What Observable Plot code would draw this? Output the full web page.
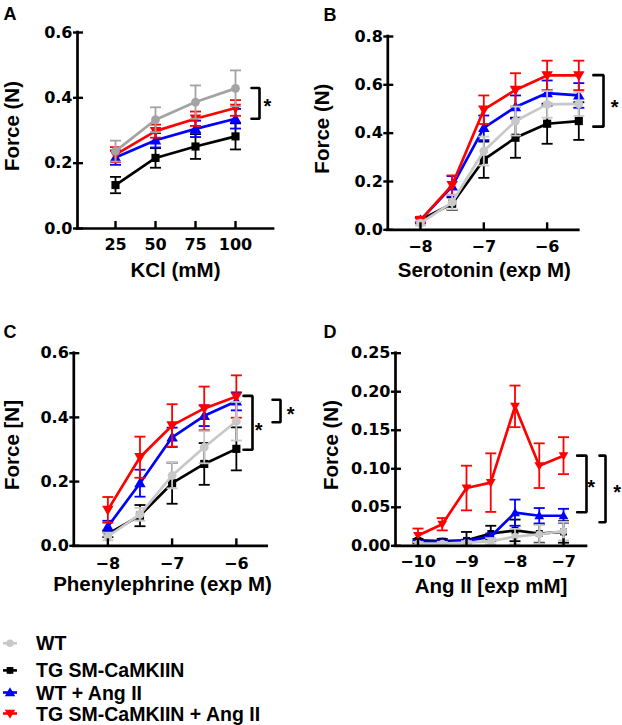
<!DOCTYPE html>
<html>
<head>
<meta charset="utf-8">
<script src="https://cdn.jsdelivr.net/npm/d3@7"></script>
<script src="https://cdn.jsdelivr.net/npm/@observablehq/plot@0.6"></script>
<style>
  body { margin: 0; background: #fff; }
  #fig { position: relative; width: 622px; height: 725px; overflow: hidden; background: #fff;
         font-family: "Liberation Sans", Arial, sans-serif; }
</style>
</head>
<body>
<div id="fig"></div>
<script>
// ---------------- DATA ----------------
const seriesNames = ["WT", "TG SM-CaMKIIN", "WT + Ang II", "TG SM-CaMKIIN + Ang II"];
const seriesColors = ["#c8c8c8", "#000000", "#0000ff", "#ff0000"];
const panelAWTColor = "#a3a3a3";

// Panel A: KCl (mM)
const kclDoses = [25, 50, 75, 100];
const kclWT = [0.237, 0.333, 0.387, 0.429];
const kclWTsem = [0.032, 0.038, 0.051, 0.055];
const kclTG = [0.133, 0.216, 0.251, 0.282];
const kclTGsem = [0.025, 0.030, 0.038, 0.040];
const kclWTAng = [0.217, 0.270, 0.305, 0.336];
const kclWTAngsem = [0.022, 0.022, 0.025, 0.030];
const kclTGAng = [0.226, 0.298, 0.336, 0.369];
const kclTGAngsem = [0.023, 0.020, 0.022, 0.024];
const kclTicksX = [25, 50, 75, 100];
const kclTicksY = [0, 0.2, 0.4, 0.6];

// Panel B: Serotonin (exp M)
const serDoses = [-8, -7.5, -7, -6.5, -6, -5.5];
const serWT = [0.028, 0.114, 0.326, 0.450, 0.519, 0.521];
const serWTsem = [0.010, 0.030, 0.060, 0.060, 0.055, 0.050];
const serTG = [0.041, 0.108, 0.290, 0.381, 0.439, 0.450];
const serTGsem = [0.010, 0.026, 0.075, 0.083, 0.083, 0.078];
const serWTAng = [0.040, 0.180, 0.422, 0.508, 0.566, 0.556];
const serWTAngsem = [0.008, 0.042, 0.051, 0.048, 0.052, 0.051];
const serTGAng = [0.040, 0.185, 0.497, 0.579, 0.639, 0.639];
const serTGAngsem = [0.008, 0.040, 0.059, 0.069, 0.061, 0.061];
const serTicksX = [-8, -7, -6];
const serTicksY = [0, 0.2, 0.4, 0.6, 0.8];

// Panel C: Phenylephrine (exp M)
const pheDoses = [-8, -7.5, -7, -6.5, -6];
const pheWT = [0.029, 0.098, 0.219, 0.307, 0.388];
const pheWTsem = [0.012, 0.020, 0.040, 0.050, 0.060];
const pheTG = [0.037, 0.094, 0.195, 0.255, 0.302];
const pheTGsem = [0.010, 0.033, 0.064, 0.065, 0.067];
const pheWTAng = [0.060, 0.195, 0.338, 0.405, 0.450];
const pheWTAngsem = [0.018, 0.042, 0.030, 0.032, 0.028];
const pheTGAng = [0.112, 0.276, 0.375, 0.428, 0.465];
const pheTGAngsem = [0.040, 0.064, 0.066, 0.068, 0.066];
const pheTicksX = [-8, -7, -6];
const pheTicksY = [0, 0.2, 0.4, 0.6];

// Panel D: Ang II [exp mM]
const angDoses = [-10, -9.5, -9, -8.5, -8, -7.5, -7];
const angWT = [0.003, 0.003, 0.004, 0.006, 0.012, 0.015, 0.019];
const angWTsem = [0.002, 0.002, 0.002, 0.004, 0.010, 0.012, 0.012];
const angTG = [0.007, 0.006, 0.007, 0.016, 0.020, 0.016, 0.018];
const angTGsem = [0.002, 0.003, 0.011, 0.010, 0.014, 0.012, 0.014];
const angWTAng = [0.005, 0.005, 0.006, 0.012, 0.043, 0.039, 0.039];
const angWTAngsem = [0.002, 0.002, 0.002, 0.004, 0.017, 0.010, 0.009];
const angTGAng = [0.0134, 0.028, 0.075, 0.082, 0.181, 0.104, 0.117];
const angTGAngsem = [0.009, 0.008, 0.029, 0.038, 0.027, 0.029, 0.024];
const angTicksX = [-10, -9, -8, -7];
const angTicksY = [0, 0.05, 0.10, 0.15, 0.20, 0.25];

// Significance brackets: [left end x, vertical x, top y, bottom y, star x, star y]
const kclBrackets = [[110, 115, 0.430, 0.336, 120, 0.387]];
const serBrackets = [[-5.27, -5.11, 0.640, 0.427, -4.935, 0.528]];
const pheBrackets = [[-5.889, -5.749, 0.467, 0.299, -5.655, 0.375],
                     [-5.437, -5.313, 0.455, 0.385, -5.157, 0.425]];
const angBrackets = [[-6.718, -6.526, 0.117, 0.0436, -6.429, 0.0826],
                     [-6.258, -6.134, 0.117, 0.0306, -5.893, 0.076]];

// ---------------- SYMBOLS ----------------
const triUp = {draw(ctx, size) { const r = Math.sqrt(size / Math.PI) * 1.25;
  ctx.moveTo(0, -r); ctx.lineTo(r, r * 0.72); ctx.lineTo(-r, r * 0.72); ctx.closePath(); }};
const triDown = {draw(ctx, size) { const r = Math.sqrt(size / Math.PI) * 1.25;
  ctx.moveTo(0, r); ctx.lineTo(r, -r * 0.72); ctx.lineTo(-r, -r * 0.72); ctx.closePath(); }};
const capSym = {draw(ctx, size) { const r = Math.sqrt(size / Math.PI);
  ctx.moveTo(-r, 0); ctx.lineTo(r, 0); }};
const seriesSymbols = ["circle", "square", triUp, triDown];
const seriesRadius = [4.4, 4.6, 4.6, 4.6];
const drawOrder = [1, 2, 3, 0];

const rows = (xs, ys, es) => xs.map((x, i) => ({x, y: ys[i], e: es[i]}));

function makePanel(p) {
  const fw = p.width - p.ml - p.mr;
  const fh = p.height - p.mt - p.mb;
  const marks = [];
  // data
  for (const s of drawOrder) {
    const data = rows(p.doses, p.means[s], p.sems[s]);
    const color = p.colors[s];
    marks.push(Plot.ruleX(data, {x: "x", y1: d => Math.max(0, d.y - d.e), y2: d => d.y + d.e, stroke: color, strokeWidth: 1.8}));
    marks.push(Plot.dot(data, {x: "x", y: d => d.y + d.e, symbol: capSym, r: 5.5, stroke: color, strokeWidth: 1.8, fill: "none"}));
    marks.push(Plot.dot(data.filter(d => d.y - d.e > 0), {x: "x", y: d => d.y - d.e, symbol: capSym, r: 5.5, stroke: color, strokeWidth: 1.8, fill: "none"}));
    marks.push(Plot.line(data, {x: "x", y: "y", stroke: color, strokeWidth: 2.7}));
    marks.push(Plot.dot(data, {x: "x", y: "y", symbol: seriesSymbols[s], r: seriesRadius[s] * p.markScale, fill: color, stroke: "none"}));
  }
  // axes
  marks.push(Plot.ruleX([p.xDomain[0]], {stroke: "black", strokeWidth: 2.7, strokeLinecap: "square"}));
  marks.push(Plot.ruleY([0], {stroke: "black", strokeWidth: 2.7, strokeLinecap: "square"}));
  marks.push(Plot.gridX(p.xTicks, {stroke: "black", strokeOpacity: 1, strokeWidth: 2.4, insetTop: fh - 7}));
  marks.push(Plot.gridY(p.yTicks, {stroke: "black", strokeOpacity: 1, strokeWidth: 2.4, insetLeft: -4, insetRight: fw - 6}));
  marks.push(Plot.axisX(p.xTicks, {tickSize: 0, tickPadding: p.xPad, label: null, tickFormat: d3.format("d"),
    fontFamily: "DejaVu Sans", fontWeight: "bold", fontSize: 16, fill: "black"}));
  marks.push(Plot.axisY(p.yTicks, {tickSize: 0, tickPadding: 5, label: null, tickFormat: d3.format(p.yFormat),
    fontFamily: "DejaVu Sans", fontWeight: "bold", fontSize: 16, fill: "black"}));
  // labels
  marks.push(Plot.text([p.yLabel], {text: d => d, frameAnchor: "left", textAnchor: "middle", dx: p.yLabelDx, dy: -4.5, rotate: -90,
    fontSize: 20.5, fontWeight: "bold", fill: "black"}));
  marks.push(Plot.text([p.xLabel], {text: d => d, frameAnchor: "bottom", textAnchor: "middle", dx: p.xLabelDx, dy: p.xLabelDy,
    fontSize: 20.5, fontWeight: "bold", fill: "black"}));
  marks.push(Plot.text([p.letter], {text: d => d, frameAnchor: "top-left", dx: p.letterDx, dy: p.letterDy,
    textAnchor: "start", lineAnchor: "top", fontSize: 18, fontWeight: "bold", fill: "black"}));
  // brackets
  for (const b of p.brackets) {
    const path = [{x: b[0], y: b[2]}, {x: b[1], y: b[2]}, {x: b[1], y: b[3]}, {x: b[0], y: b[3]}];
    marks.push(Plot.line(path, {x: "x", y: "y", stroke: "black", strokeWidth: 2.6, strokeLinejoin: "miter"}));
    marks.push(Plot.text(["*"], {text: d => d, x: () => b[4], y: () => b[5], dy: 5, fontSize: 20, fontWeight: "bold", fill: "black"}));
  }
  return Plot.plot({
    width: p.width, height: p.height,
    marginLeft: p.ml, marginRight: p.mr, marginTop: p.mt, marginBottom: p.mb,
    x: {domain: p.xDomain, axis: null},
    y: {domain: p.yDomain, axis: null},
    style: {fontFamily: "Liberation Sans, Arial, sans-serif", background: "transparent", overflow: "visible"},
    marks
  });
}

const panels = [
  {letter: "A", left: 0, top: 0, width: 311, height: 305, ml: 77, mr: 38, mt: 32, mb: 77,
   xDomain: [1.25, 123.75], yDomain: [0, 0.6], xTicks: kclTicksX, yTicks: kclTicksY, yFormat: ".1f",
   doses: kclDoses, means: [kclWT, kclTG, kclWTAng, kclTGAng], sems: [kclWTsem, kclTGsem, kclWTAngsem, kclTGAngsem],
   colors: [panelAWTColor, seriesColors[1], seriesColors[2], seriesColors[3]], markScale: 1,
   yLabel: "Force (N)", yLabelDx: -65.5, xLabel: "KCl (mM)", xLabelDx: 0, xLabelDy: 48.5, xPad: 10,
   letterDx: -74, letterDy: -25, brackets: kclBrackets},
  {letter: "B", left: 311, top: 0, width: 311, height: 305, ml: 76.3, mr: 43.7, mt: 36, mb: 75.7,
   xDomain: [-8.516, -5.5], yDomain: [0, 0.8], xTicks: serTicksX, yTicks: serTicksY, yFormat: ".1f",
   doses: serDoses, means: [serWT, serTG, serWTAng, serTGAng], sems: [serWTsem, serTGsem, serWTAngsem, serTGAngsem],
   colors: seriesColors, markScale: 1,
   yLabel: "Force (N)", yLabelDx: -65.6, xLabel: "Serotonin (exp M)", xLabelDx: 1, xLabelDy: 47, xPad: 10.5,
   letterDx: -64.3, letterDy: -28, brackets: serBrackets},
  {letter: "C", left: 0, top: 305, width: 311, height: 305, ml: 73.3, mr: 44.3, mt: 47.7, mb: 64.7,
   xDomain: [-8.53, -5.52], yDomain: [0, 0.6], xTicks: pheTicksX, yTicks: pheTicksY, yFormat: ".1f",
   doses: pheDoses, means: [pheWT, pheTG, pheWTAng, pheTGAng], sems: [pheWTsem, pheTGsem, pheWTAngsem, pheTGAngsem],
   colors: seriesColors, markScale: 1,
   yLabel: "Force [N]", yLabelDx: -61.8, xLabel: "Phenylephrine (exp M)", xLabelDx: -8, xLabelDy: 45.5, xPad: 11.5,
   letterDx: -70.3, letterDy: -27.7, brackets: pheBrackets},
  {letter: "D", left: 311, top: 305, width: 311, height: 305, ml: 84, mr: 36, mt: 47.7, mb: 64.7,
   xDomain: [-10.464, -6.526], yDomain: [0, 0.25], xTicks: angTicksX, yTicks: angTicksY, yFormat: ".2f",
   doses: angDoses, means: [angWT, angTG, angWTAng, angTGAng], sems: [angWTsem, angTGsem, angWTAngsem, angTGAngsem],
   colors: seriesColors, markScale: 0.85,
   yLabel: "Force (N)", yLabelDx: -64.2, xLabel: "Ang II [exp mM]", xLabelDx: 0, xLabelDy: 47.5, xPad: 10,
   letterDx: -72, letterDy: -27.7, brackets: angBrackets}
];

const fig = document.getElementById("fig");
for (const p of panels) {
  const svg = makePanel(p);
  svg.style.position = "absolute";
  svg.style.left = p.left + "px";
  svg.style.top = p.top + "px";
  fig.appendChild(svg);
}

// ---------------- LEGEND ----------------
const legendRowsY = [643.3, 670.4, 692.5, 713.5];
const legend = d3.create("svg").attr("width", 622).attr("height", 105)
  .style("position", "absolute").style("left", "0px").style("top", "620px");
const symbolPaths = [d3.symbolCircle, d3.symbolSquare, triUp, triDown];
const legendSizes = [3.8, 3.8, 4.2, 4.2];
seriesNames.forEach((name, i) => {
  const cy = legendRowsY[i] - 620;
  const g = legend.append("g");
  g.append("line").attr("x1", 3).attr("x2", 17).attr("y1", cy).attr("y2", cy)
    .attr("stroke", seriesColors[i]).attr("stroke-width", 2.6);
  if (i > 0) {
    g.append("line").attr("x1", 10).attr("x2", 10).attr("y1", cy - 3.5).attr("y2", cy + 3.5)
      .attr("stroke", seriesColors[i]).attr("stroke-width", 1.6);
  }
  g.append("path").attr("transform", `translate(10,${cy})`)
    .attr("d", d3.symbol(symbolPaths[i], Math.PI * legendSizes[i] * legendSizes[i])())
    .attr("fill", seriesColors[i]);
  legend.append("text").attr("x", 36).attr("y", cy + 7)
    .attr("font-family", "Liberation Sans, Arial, sans-serif").attr("font-weight", "bold")
    .attr("font-size", 19.5).attr("fill", "black").text(name);
});
fig.appendChild(legend.node());
</script>
</body>
</html>
